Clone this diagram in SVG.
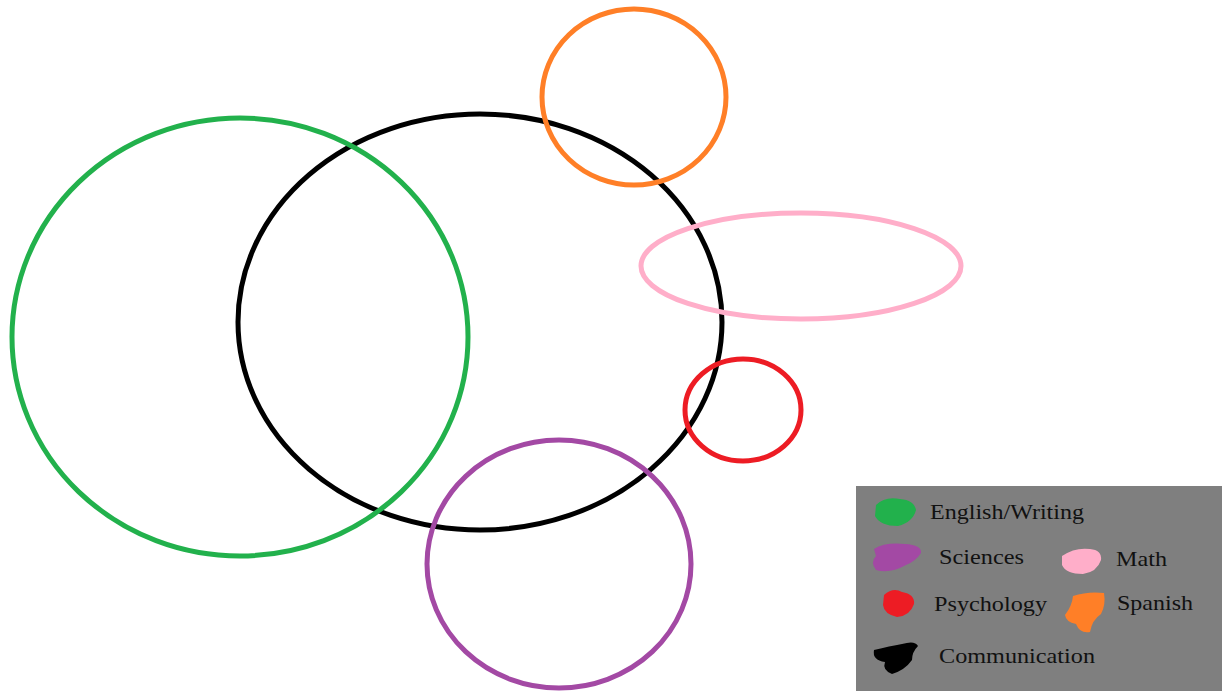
<svg xmlns="http://www.w3.org/2000/svg" width="1222" height="691" viewBox="0 0 1222 691">
<style>
.c{fill:none;stroke-width:5}
.t{font-family:"Liberation Serif","Times New Roman",serif;font-size:22px;fill:#111}
</style>
<rect width="1222" height="691" fill="#fff"/>
<g id="communication"><ellipse class="c" cx="480" cy="322" rx="242" ry="208" stroke="#000"/></g>
<g id="english"><ellipse class="c" cx="240" cy="337" rx="228" ry="219" stroke="#22b14c"/></g>
<g id="spanish"><ellipse class="c" cx="634" cy="97" rx="92" ry="88" stroke="#ff7f27"/></g>
<g id="math"><ellipse class="c" cx="801" cy="266" rx="160" ry="53" stroke="#ffaec9"/></g>
<g id="psychology"><ellipse class="c" cx="743" cy="410" rx="58" ry="51" stroke="#ed1c24"/></g>
<g id="sciences"><ellipse class="c" cx="559" cy="564" rx="132" ry="124" stroke="#a349a4"/></g>
<g id="legend">
<rect x="856" y="486" width="366" height="205" fill="#7f7f7f"/>
<path d="M876 505 Q885 496 900 499 Q914 500 916 510 Q913 522 898 526 Q880 526 875 516 Z" fill="#22b14c"/>
<path d="M874 549 Q885 542 905 544 Q922 545 921 553 Q916 561 906 565 Q890 574 876 570 Q870 562 876 556 Z" fill="#a349a4"/>
<path d="M884 595 Q893 587 902 592 Q915 594 914 604 Q910 616 897 617 Q884 614 883 605 Z" fill="#ed1c24"/>
<path d="M1062 556 Q1075 547 1090 549 Q1102 550 1101 560 Q1097 572 1083 574 Q1066 574 1062 565 Z" fill="#ffaec9"/>
<path d="M1073 596 Q1088 591 1104 593 Q1106 605 1101 614 Q1092 620 1090 632 Q1080 634 1076 624 Q1066 622 1065 615 Q1072 606 1073 596 Z" fill="#ff7f27"/>
<path d="M874 650 Q890 646 902 644 Q915 640 918 646 Q912 652 912 660 Q905 670 892 674 Q882 670 885 662 Q872 660 874 650 Z" fill="#000"/>
<text class="t" x="930" y="519" textLength="154" lengthAdjust="spacingAndGlyphs">English/Writing</text>
<text class="t" x="939" y="564" textLength="85" lengthAdjust="spacingAndGlyphs">Sciences</text>
<text class="t" x="1116" y="566" textLength="51" lengthAdjust="spacingAndGlyphs">Math</text>
<text class="t" x="934" y="611" textLength="113" lengthAdjust="spacingAndGlyphs">Psychology</text>
<text class="t" x="1117" y="610" textLength="76" lengthAdjust="spacingAndGlyphs">Spanish</text>
<text class="t" x="939" y="663" textLength="156" lengthAdjust="spacingAndGlyphs">Communication</text>
</g>
</svg>
